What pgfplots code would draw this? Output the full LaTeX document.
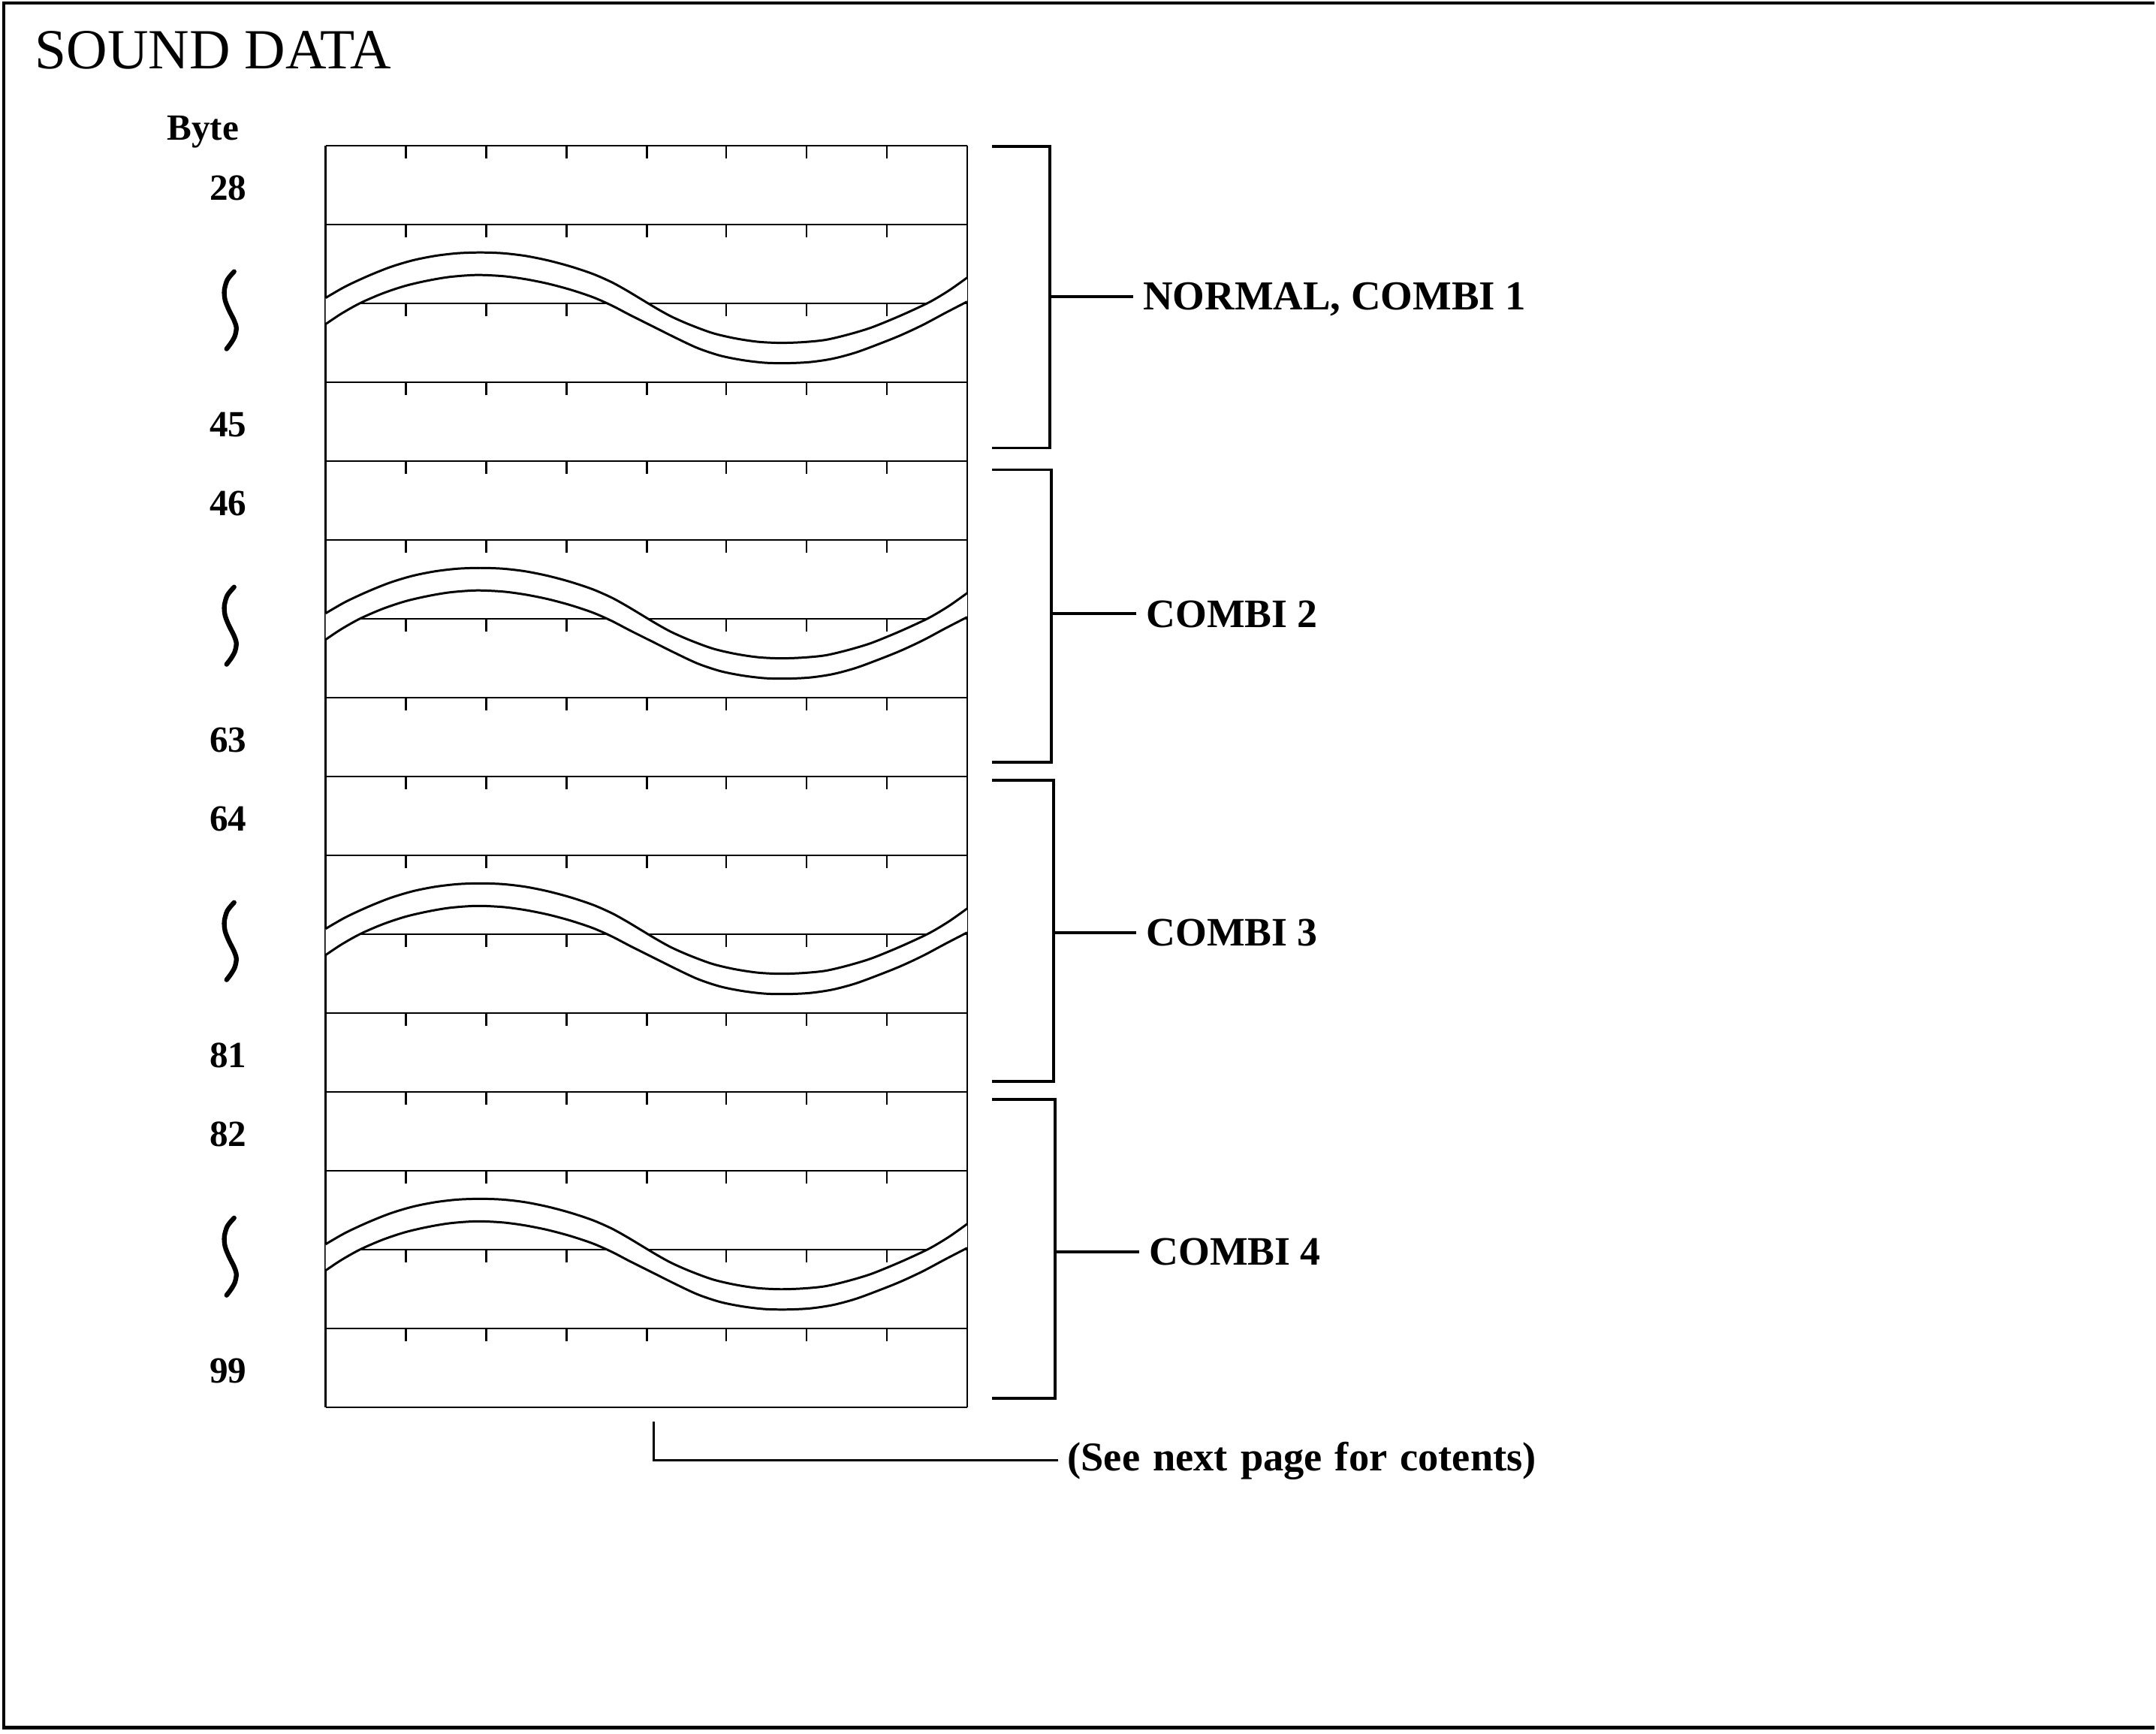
\documentclass[border=0pt]{standalone}
\usepackage{pgfplots}
\pgfplotsset{compat=1.18}
\usepackage{pgfplotstable}
\usepackage{fontspec}
\setmainfont{Liberation Serif}

% left end and y position (px, downwards) of the 17 horizontal row lines
\pgfplotstableread{
x y
434 194.0
434 299.1
434 404.2
434 509.3
434 614.4
434 719.5
434 824.6
434 929.7
434 1034.8
434 1139.9
434 1245.0
434 1350.1
434 1455.2
434 1560.3
434 1665.4
434 1770.5
434 1875.6
}\rowlines

% bit-boundary ticks along each row line (y relative to the line)
\pgfplotstableread{
x y
541 0
648 0
755 0
862 0
968 0
1075 0
1182 0
}\tickx

% break wave, relative to the group's top line
\pgfplotstableread{
x y
434 203
460 188
490 174
520 162
550 153
580 147
610 143.5
640 142.5
670 143.5
700 147
730 153
760 161
790 171
815 182
835 193
855 205
875 217
895 228
920 239
950 250
980 257
1010 261.5
1040 263
1070 262
1100 259
1130 252
1160 243
1190 231
1215 220
1240 208
1265 193
1289 176
}\upperwave

\pgfplotstableread{
x y
434 238
455 224
480 210
510 197
540 187
570 180
600 175
635 172.5
670 174
700 178
730 184
760 192
790 202
815 213
840 226
870 241
900 256
930 270
960 280
990 286
1020 289.5
1050 290
1080 288.5
1110 284
1140 276
1170 265
1200 253
1230 239
1260 223
1289 208
}\lowerwave

% white band between the two curves (upper forwards, lower backwards)
\pgfplotstableread{
x y
434 203
460 188
490 174
520 162
550 153
580 147
610 143.5
640 142.5
670 143.5
700 147
730 153
760 161
790 171
815 182
835 193
855 205
875 217
895 228
920 239
950 250
980 257
1010 261.5
1040 263
1070 262
1100 259
1130 252
1160 243
1190 231
1215 220
1240 208
1265 193
1289 176
1289 208
1260 223
1230 239
1200 253
1170 265
1140 276
1110 284
1080 288.5
1050 290
1020 289.5
990 286
960 280
930 270
900 256
870 241
840 226
815 213
790 202
760 192
730 184
700 178
670 174
635 172.5
600 175
570 180
540 187
510 197
480 210
455 224
434 238
}\bandpoly

% the curly break mark at the left
\pgfplotstableread{
x y
312 168
303 179
299 193
300 206
305 219
312 233
315 243
313 254
308 263
302 271
}\breakmark

\begin{document}
\begin{tikzpicture}
\begin{axis}[
  scale only axis, width=28.71cm, height=23.10cm,
  xmin=0, xmax=2871, ymin=0, ymax=2310, y dir=reverse,
  hide axis, clip=false,
]
% invisible bounding area
\addplot[draw=none] coordinates {(0,0) (2871,2310)};

% frame (top, left, bottom)
\addplot[black, line width=1.4pt] coordinates {(2871,4) (5,4) (5,2302) (2871,2302)};

% row lines
\addplot[black, line width=0.7pt, quiver={u=855, v=0}] table[x=x, y=y] {\rowlines};
% ticks
\pgfplotsinvokeforeach{194.0,299.1,404.2,509.3,614.4,719.5,824.6,929.7,1034.8,1139.9,1245.0,1350.1,1455.2,1560.3,1665.4,1770.5}{
  \addplot[black, line width=0.7pt, quiver={u=0, v=17}] table[x=x, y expr=\thisrow{y}+#1] {\tickx};
}
% box sides
\addplot[black, line width=0.7pt] coordinates {(434,194) (434,1876)};
\addplot[black, line width=0.7pt] coordinates {(1289,194) (1289,1876)};

% break waves and break marks for each group
\pgfplotsinvokeforeach{194.0,614.4,1034.8,1455.2}{
  \addplot[fill=white, draw=none] table[x=x, y expr=\thisrow{y}+#1] {\bandpoly};
  \addplot[black, line width=0.85pt, smooth] table[x=x, y expr=\thisrow{y}+#1] {\upperwave};
  \addplot[black, line width=0.85pt, smooth] table[x=x, y expr=\thisrow{y}+#1] {\lowerwave};
  \addplot[black, line width=1.8pt, smooth, line cap=round] table[x=x, y expr=\thisrow{y}+#1] {\breakmark};
}

% brackets
\addplot[black, line width=1.1pt] coordinates {(1322,195) (1399,195) (1399,597) (1322,597)};
\addplot[black, line width=1.1pt] coordinates {(1399,395) (1510,395)};
\addplot[black, line width=1.1pt] coordinates {(1322,626) (1401,626) (1401,1016) (1322,1016)};
\addplot[black, line width=1.1pt] coordinates {(1401,818) (1514,818)};
\addplot[black, line width=1.1pt] coordinates {(1322,1040) (1404,1040) (1404,1441) (1322,1441)};
\addplot[black, line width=1.1pt] coordinates {(1404,1243) (1514,1243)};
\addplot[black, line width=1.1pt] coordinates {(1322,1465) (1406,1465) (1406,1864) (1322,1864)};
\addplot[black, line width=1.1pt] coordinates {(1406,1668) (1518,1668)};

% connector to the note
\addplot[black, line width=0.9pt] coordinates {(871,1895) (871,1946) (1410,1946)};

% texts
\node[anchor=base west, inner sep=0pt, font=\fontsize{21.5}{25}\selectfont] at (axis cs:46,92) {SOUND DATA};
\node[anchor=base west, inner sep=0pt, font=\fontsize{14}{16}\selectfont\bfseries] at (axis cs:222,187) {Byte};
\node[inner sep=0pt, font=\fontsize{14}{16}\selectfont\bfseries] at (axis cs:304,250.6) {28};
\node[inner sep=0pt, font=\fontsize{14}{16}\selectfont\bfseries] at (axis cs:304,566.3) {45};
\node[inner sep=0pt, font=\fontsize{14}{16}\selectfont\bfseries] at (axis cs:304,671.0) {46};
\node[inner sep=0pt, font=\fontsize{14}{16}\selectfont\bfseries] at (axis cs:304,986.2) {63};
\node[inner sep=0pt, font=\fontsize{14}{16}\selectfont\bfseries] at (axis cs:304,1091.4) {64};
\node[inner sep=0pt, font=\fontsize{14}{16}\selectfont\bfseries] at (axis cs:304,1406.7) {81};
\node[inner sep=0pt, font=\fontsize{14}{16}\selectfont\bfseries] at (axis cs:304,1511.8) {82};
\node[inner sep=0pt, font=\fontsize{14}{16}\selectfont\bfseries] at (axis cs:304,1827.1) {99};

\node[anchor=base west, inner sep=0pt, font=\fontsize{15.6}{18}\selectfont\bfseries] at (axis cs:1523,413) {NORMAL, COMBI 1};
\node[anchor=base west, inner sep=0pt, font=\fontsize{15.3}{18}\selectfont\bfseries] at (axis cs:1527,836) {COMBI 2};
\node[anchor=base west, inner sep=0pt, font=\fontsize{15.3}{18}\selectfont\bfseries] at (axis cs:1527,1261) {COMBI 3};
\node[anchor=base west, inner sep=0pt, font=\fontsize{15.3}{18}\selectfont\bfseries] at (axis cs:1531,1686) {COMBI 4};
\node[anchor=base west, inner sep=0pt, font=\fontsize{15.5}{18}\selectfont\bfseries] at (axis cs:1422,1960) {\spaceskip=4.85pt\relax(See next page for cotents)};
\end{axis}
\end{tikzpicture}
\end{document}
